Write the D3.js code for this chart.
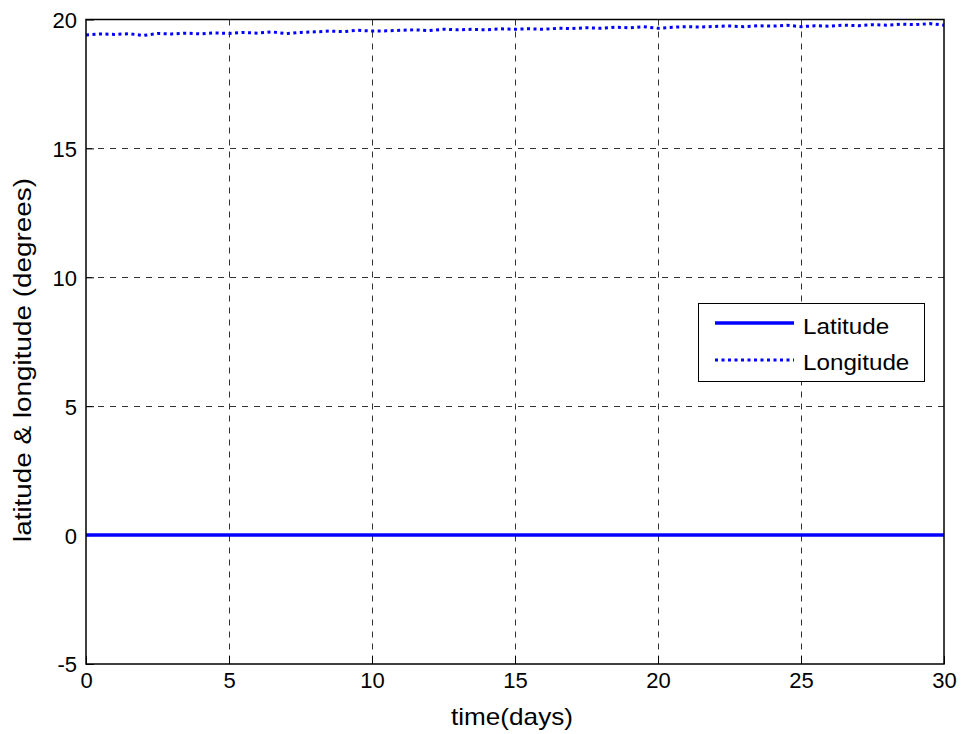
<!DOCTYPE html>
<html>
<head>
    <meta charset="utf-8">
    <title>latitude & longitude</title>
    <script src="https://d3js.org/d3.v7.min.js"></script>
    <style>
        body { margin: 0; background: #fff; }
        svg { display: block; font-family: "Liberation Sans", Arial, sans-serif; }
    </style>
</head>
<body>
    <svg id="chart"></svg>
    <script>
        // time in days, sampled every half day
        const days = [0,0.5,1,1.5,2,2.5,3,3.5,4,4.5,5,5.5,6,6.5,7,7.5,8,8.5,9,9.5,10,10.5,11,11.5,12,12.5,13,13.5,14,14.5,15,15.5,16,16.5,17,17.5,18,18.5,19,19.5,20,20.5,21,21.5,22,22.5,23,23.5,24,24.5,25,25.5,26,26.5,27,27.5,28,28.5,29,29.5,30];
        const latitude = [0,0,0,0,0,0,0,0,0,0,0,0,0,0,0,0,0,0,0,0,0,0,0,0,0,0,0,0,0,0,0,0,0,0,0,0,0,0,0,0,0,0,0,0,0,0,0,0,0,0,0,0,0,0,0,0,0,0,0,0,0];
        const longitude = [19.40,19.44,19.42,19.45,19.38,19.46,19.44,19.47,19.44,19.48,19.46,19.50,19.47,19.52,19.45,19.50,19.52,19.55,19.53,19.58,19.55,19.56,19.58,19.60,19.57,19.62,19.60,19.62,19.60,19.64,19.62,19.64,19.62,19.66,19.65,19.68,19.66,19.70,19.68,19.72,19.66,19.70,19.72,19.71,19.73,19.75,19.72,19.76,19.74,19.78,19.72,19.76,19.74,19.78,19.76,19.80,19.78,19.82,19.80,19.84,19.78];
        const xTicks = [0,5,10,15,20,25,30];
        const yTicks = [-5,0,5,10,15,20];
        const seriesNames = ["Latitude", "Longitude"];

        const width = 961, height = 734;
        const mLeft = 86, mRight = 944, mTop = 19.5, mBottom = 664;

        const svg = d3.select("#chart").attr("width", width).attr("height", height);

        const x = d3.scaleLinear().domain([0, 30]).range([mLeft, mRight]);
        const y = d3.scaleLinear().domain([-5, 20]).range([mBottom, mTop]);

        // the original text is a bit wider than Liberation Sans, stretch it
        function stretch(sel, factor) {
            sel.each(function () {
                const len = this.getComputedTextLength();
                d3.select(this).attr("textLength", len * factor).attr("lengthAdjust", "spacingAndGlyphs");
            });
        }

        // grid
        const grid = svg.append("g").attr("stroke", "#333").attr("stroke-width", 1).attr("stroke-dasharray", "6,6");
        grid.selectAll(".gx").data(xTicks.slice(1, -1)).join("line")
            .attr("x1", d => Math.round(x(d)) + 0.5).attr("x2", d => Math.round(x(d)) + 0.5)
            .attr("y1", mTop).attr("y2", mBottom);
        grid.selectAll(".gy").data(yTicks.slice(1, -1)).join("line")
            .attr("y1", d => Math.round(y(d)) + 0.5).attr("y2", d => Math.round(y(d)) + 0.5)
            .attr("x1", mLeft).attr("x2", mRight);

        // axes, MATLAB style ticks inside
        const fmt = d => String(d);
        const xAxis = d3.axisBottom(x).tickValues(xTicks).tickFormat(fmt).tickSizeInner(-8).tickSizeOuter(0).tickPadding(13);
        const yAxis = d3.axisLeft(y).tickValues(yTicks).tickFormat(fmt).tickSizeInner(-8).tickSizeOuter(0).tickPadding(9);
        const gx = svg.append("g").attr("transform", `translate(0,${mBottom})`).call(xAxis);
        const gy = svg.append("g").attr("transform", `translate(${mLeft},0)`).call(yAxis);
        [gx, gy].forEach(g => {
            g.select(".domain").remove();
            g.selectAll("text").attr("font-size", 22).attr("fill", "#000")
                .attr("font-family", "'Liberation Sans', Arial, sans-serif");
            g.selectAll("line").attr("stroke", "#000");
        });
        gx.selectAll("text").attr("dy", "0.5em");
        gy.selectAll("text").attr("dy", "0.36em");

        // lines
        const lineGen = vals => d3.line().x((d, i) => x(days[i])).y(d => y(d))(vals);
        svg.append("path").attr("d", lineGen(latitude)).attr("fill", "none")
            .attr("stroke", "#0000ff").attr("stroke-width", 3.5);
        svg.append("path").attr("d", lineGen(longitude)).attr("fill", "none")
            .attr("stroke", "#0000ff").attr("stroke-width", 3).attr("stroke-dasharray", "3,3.5");

        // frame
        svg.append("rect").attr("x", mLeft).attr("y", mTop).attr("width", mRight - mLeft).attr("height", mBottom - mTop)
            .attr("fill", "none").attr("stroke", "#000").attr("stroke-width", 1.5);

        // axis labels
        svg.append("text").attr("x", 512).attr("y", 725).attr("text-anchor", "middle")
            .attr("font-size", 24).attr("textLength", 122).attr("lengthAdjust", "spacingAndGlyphs")
            .text("time(days)");
        svg.append("text").attr("transform", `translate(31,360) rotate(-90)`)
            .attr("text-anchor", "middle").attr("font-size", 23)
            .attr("textLength", 364).attr("lengthAdjust", "spacingAndGlyphs")
            .text("latitude & longitude (degrees)");

        // legend
        const lg = svg.append("g");
        lg.append("rect").attr("x", 698.5).attr("y", 303.5).attr("width", 226).attr("height", 78)
            .attr("fill", "#fff").attr("stroke", "#000").attr("stroke-width", 1);
        seriesNames.forEach((name, i) => {
            const ly = 323 + i * 37;
            lg.append("line").attr("x1", 715).attr("x2", 794).attr("y1", ly).attr("y2", ly)
                .attr("stroke", "#0000ff").attr("stroke-width", i ? 3 : 3.5)
                .attr("stroke-dasharray", i ? "3,3.5" : null);
            const t = lg.append("text").attr("x", 803).attr("y", 334 + i * 36)
                .attr("font-size", 22).text(name);
            stretch(t, 1.1);
        });
    </script>
</body>
</html>
